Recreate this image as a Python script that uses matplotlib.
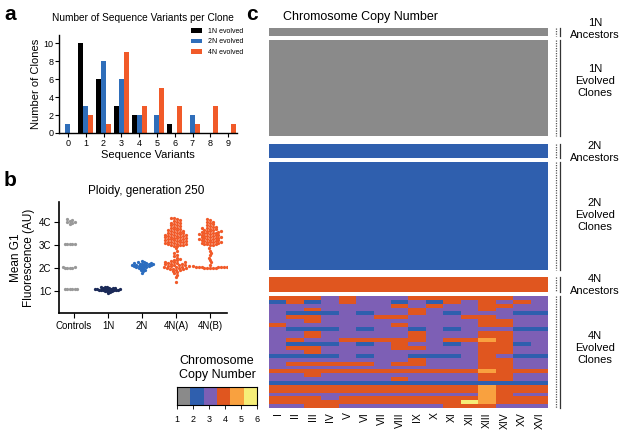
import numpy as np
import matplotlib.pyplot as plt
from matplotlib.colors import ListedColormap, BoundaryNorm

plt.rcParams['font.family'] = ['Liberation Sans', 'DejaVu Sans']

W, H = 624, 438

# ---- panel a: sequence variants per clone
variants = list(range(10))
clones_1n = [0, 10, 6, 3, 2, 0, 1, 0, 0, 0]
clones_2n = [1, 3, 8, 6, 2, 2, 0, 2, 0, 0]
clones_4n = [0, 2, 1, 9, 3, 5, 3, 1, 3, 1]
bar_labels = ['1N evolved', '2N evolved', '4N evolved']

# ---- panel b: ploidy at generation 250 (values in C units)
groups = ['Controls', '1N', '2N', '4N(A)', '4N(B)']
controls_vals = [3.92, 3.95, 3.98, 4.01, 4.04, 4.08, 4.12,
                 3.03, 3.03, 3.04, 3.04, 3.05,
                 2.0, 2.0, 2.01, 2.01, 2.02, 2.02,
                 1.07, 1.07, 1.08, 1.08, 1.09, 1.09]
n1_vals = [0.9, 0.95, 0.98, 1.0, 1.01, 1.02, 1.03, 1.04, 1.04, 1.05, 1.06, 1.06,
           1.07, 1.08, 1.08, 1.09, 1.1, 1.1, 1.11, 1.12, 1.13, 1.14, 1.15, 1.17, 1.19]
n2_vals = [1.76, 1.85, 1.9, 1.93, 1.96, 1.98, 2.0, 2.02, 2.04, 2.05, 2.07, 2.08,
           2.09, 2.1, 2.11, 2.12, 2.13, 2.14, 2.15, 2.16, 2.17, 2.18, 2.19, 2.2,
           2.21, 2.22, 2.24, 2.26, 2.29]
n4a_vals = [1.38, 1.6, 1.7, 1.76, 1.82, 1.86,
            1.9, 1.92, 1.94, 1.95, 1.97, 1.98, 2.0, 2.01, 2.03, 2.04, 2.06, 2.07,
            2.09, 2.1, 2.12, 2.13, 2.15, 2.16, 2.18, 2.19, 2.21, 2.22, 2.24, 2.26,
            2.28, 2.3, 2.33, 2.36, 2.4, 2.44, 2.5,
            2.58, 2.66, 2.75, 2.85,
            2.95, 2.97, 2.99, 3.0, 3.02, 3.03, 3.05, 3.06, 3.08, 3.09, 3.11, 3.12,
            3.14, 3.15, 3.17, 3.18, 3.2, 3.21, 3.23, 3.24, 3.26, 3.27, 3.29, 3.3,
            3.32, 3.33, 3.35, 3.36, 3.38, 3.39, 3.41, 3.42, 3.44, 3.45, 3.47, 3.48,
            3.5, 3.52, 3.54, 3.56, 3.58, 3.6, 3.62, 3.64, 3.66, 3.68, 3.7,
            3.73, 3.76, 3.79, 3.82, 3.85, 3.88, 3.91, 3.94, 3.97, 4.0, 4.04, 4.08,
            4.12, 4.16, 4.18]
n4b_vals = [1.99, 2.0, 2.0, 2.01, 2.01, 2.02, 2.02, 2.03, 2.03, 2.04, 2.05, 2.06, 2.07,
            2.15, 2.25, 2.35, 2.45, 2.55, 2.65, 2.75, 2.85,
            3.0, 3.02, 3.03, 3.05, 3.06, 3.08, 3.09, 3.11, 3.12, 3.14, 3.15, 3.17,
            3.18, 3.2, 3.21, 3.23, 3.24, 3.26, 3.27, 3.29, 3.3, 3.32, 3.33, 3.35,
            3.36, 3.38, 3.39, 3.41, 3.42, 3.44, 3.45, 3.47, 3.48, 3.5, 3.51, 3.53,
            3.54, 3.56, 3.57, 3.59, 3.6, 3.62, 3.64, 3.66, 3.68, 3.7, 3.72, 3.74,
            3.77, 3.8, 3.83, 3.86, 3.9, 3.94, 3.98, 4.02, 4.07, 4.12]
group_vals = [controls_vals, n1_vals, n2_vals, n4a_vals, n4b_vals]
group_pos = [-0.12, 1, 2, 3, 4]
group_colors = ['#999999', '#1b2a58', '#2c6dbf', '#f15a29', '#f15a29']
# dot spacing in pixels (horizontal, vertical)
group_gap_px = [(2.4, 2.4), (2.0, 2.0), (2.2, 2.2), (3.0, 2.5), (2.8, 2.5)]

# ---- panel c: chromosome copy number
chromosomes = ['I', 'II', 'III', 'IV', 'V', 'VI', 'VII', 'VIII', 'IX', 'X',
               'XI', 'XII', 'XIII', 'XIV', 'XV', 'XVI']
block_names = ['1N\nAncestors', '1N\nEvolved\nClones', '2N\nAncestors',
               '2N\nEvolved\nClones', '4N\nAncestors', '4N\nEvolved\nClones']
block_rows = [2, 22, 4, 24, 4, 29]
block_ploidy = [1, 1, 2, 2, 4, 4]
evolved_4n = [
    '4443433344444433',
    '2423433232434343',
    '3333333434334433',
    '3343333343334333',
    '3222323343233322',
    '3443334433344333',
    '3343333333334433',
    '4333333433334433',
    '3222323323233322',
    '3343333343334433',
    '3343333343334433',
    '3433444443445433',
    '3222323433234423',
    '3443333443334433',
    '3343333333334433',
    '2222323322234322',
    '3333333343334433',
    '3444443443334433',
    '3333333333334433',
    '4444444444445444',
    '3343333333334433',
    '3333333433334433',
    '2222222222222222',
    '4444444444445444',
    '4444444444445444',
    '3333333333335433',
    '4443444444445444',
    '4444444444465444',
    '3344333333444333',
]
copy_colors = ['#8a8a8a', '#2f5fae', '#7d5fb5', '#e0561f', '#f9a13f', '#f6ee78']
cmap = ListedColormap(copy_colors)
norm = BoundaryNorm(np.arange(0.5, 7.5), cmap.N)


def px_axes(fig, x0, y0, x1, y1):
    return fig.add_axes([x0 / W, 1 - y1 / H, (x1 - x0) / W, (y1 - y0) / H])


def swarm_offsets(vals, dx, dy):
    vals = np.asarray(vals, float)
    xs = np.zeros(len(vals))
    placed = []
    flip = 1
    for i in np.argsort(vals, kind='stable'):
        found = None
        for k in range(0, 200):
            for sgn in ([1] if k == 0 else [flip, -flip]):
                x = sgn * k * 0.5 * dx
                if all(((x - qx) / dx) ** 2 + ((vals[i] - qy) / dy) ** 2 >= 1.0
                       for qx, qy in placed):
                    found = x
                    break
            if found is not None:
                break
        if found != 0:
            flip = -flip
        xs[i] = found
        placed.append((found, vals[i]))
    return xs


fig = plt.figure(figsize=(W / 100, H / 100), dpi=100)

# ---------------- panel a
ax = px_axes(fig, 59, 35, 237, 133)
w = 0.28
ax.bar(np.array(variants) - w, clones_1n, w, color='black', label=bar_labels[0])
ax.bar(variants, clones_2n, w, color='#2f6eba', label=bar_labels[1])
ax.bar(np.array(variants) + w, clones_4n, w, color='#f15a29', label=bar_labels[2])
ax.set_xlim(-0.5, 9.5)
ax.set_ylim(0, 10.9)
ax.set_xticks(variants)
ax.set_yticks(range(0, 11, 2))
ax.tick_params(labelsize=6.5, length=3, width=0.8, pad=1.5)
ax.tick_params(axis='y', pad=0.8)
for s in ['top', 'right']:
    ax.spines[s].set_visible(False)
for s in ['left', 'bottom']:
    ax.spines[s].set_linewidth(1)
ax.set_xlabel('Sequence Variants', fontsize=8, labelpad=1)
ax.set_ylabel('Number of Clones', fontsize=8)
ax.yaxis.set_label_coords(-0.1, 0.5)
ax.set_title('Number of Sequence Variants per Clone', fontsize=7.3, pad=10, x=0.47)
ax.legend(fontsize=5, frameon=False, loc='upper right', bbox_to_anchor=(1.05, 1.1),
          handlelength=1.6, handleheight=0.7, labelspacing=0.5, borderaxespad=0)

# ---------------- panel b
ax = px_axes(fig, 59, 202, 227, 313)
for gi, vals in enumerate(group_vals):
    gx, gy = group_gap_px[gi]
    offs = swarm_offsets(vals, gx / 34, gy / 23)
    ax.scatter(group_pos[gi] + offs, vals, s=5.5, color=group_colors[gi],
               linewidths=0, zorder=3)
ax.set_xlim(-0.44, 4.5)
ax.set_ylim(0.04, 4.87)
ax.set_xticks(range(len(groups)))
ax.set_xticklabels(groups)
ax.set_yticks([1, 2, 3, 4])
ax.set_yticklabels(['1C', '2C', '3C', '4C'])
ax.tick_params(labelsize=7, length=3.5, width=0.8, pad=2)
for s in ['top', 'right']:
    ax.spines[s].set_visible(False)
for s in ['left', 'bottom']:
    ax.spines[s].set_linewidth(1.2)
ax.set_ylabel('Mean G1\nFluorescence (AU)', fontsize=8.5, linespacing=1.2)
ax.yaxis.set_label_coords(-0.14, 0.5)
ax.set_title('Ploidy, generation 250', fontsize=8.5, pad=6, x=0.52)

# ---------------- panel c heatmap blocks
block_tops = [28, 40, 144, 162, 277, 296]
block_bottoms = [36, 136, 158, 270, 292, 408]
x_left, x_right = 269, 548
for bi in range(len(block_rows)):
    bax = px_axes(fig, x_left, block_tops[bi], x_right, block_bottoms[bi])
    if bi == len(block_rows) - 1:
        data = np.array([[int(ch) for ch in row] for row in evolved_4n])
    else:
        data = np.full((block_rows[bi], len(chromosomes)), block_ploidy[bi])
    bax.imshow(data, cmap=cmap, norm=norm, aspect='auto', interpolation='nearest')
    bax.set_yticks([])
    for s in bax.spines.values():
        s.set_visible(False)
    if bi == len(block_rows) - 1:
        bax.set_xticks(range(len(chromosomes)))
        bax.set_xticklabels(chromosomes, rotation=90, fontsize=7.5)
        bax.tick_params(axis='x', length=0, pad=3)
    else:
        bax.set_xticks([])

# ---------------- colour key
cax = px_axes(fig, 177, 387, 257, 405)
cax.imshow([np.arange(1, 7)], cmap=cmap, norm=norm, aspect='auto',
           extent=(0, 6, 0, 1), interpolation='nearest')
cax.set_xticks(np.linspace(0, 6, 6))
cax.set_xticklabels([str(i) for i in range(1, 7)])
cax.set_yticks([])
cax.tick_params(labelsize=6.5, length=3, width=0.6, pad=4)
for s in cax.spines.values():
    s.set_linewidth(0.8)

# ---------------- overlay in pixel coordinates
ov = fig.add_axes([0, 0, 1, 1])
ov.set_xlim(0, W)
ov.set_ylim(H, 0)
ov.axis('off')
for lab, (x, y) in zip('abc', [(4, 14), (4, 180), (246, 14)]):
    ov.text(x, y, lab, fontsize=15, fontweight='bold', va='center', ha='left')
ov.text(283, 17, 'Chromosome Copy Number', fontsize=9, ha='left', va='center')
ov.text(217, 368, 'Chromosome\nCopy Number', fontsize=9, ha='center', va='center',
        linespacing=1.15)
label_y = [28.5, 81, 152, 215, 285, 348]
for bi in range(len(block_rows)):
    y0, y1 = block_tops[bi], block_bottoms[bi]
    ov.plot([556, 556], [y0, y1], color='#555555', lw=0.9, ls=(0, (1, 1)))
    ov.plot([560, 560], [y0, y1], color='#333333', lw=0.9)
    ov.text(595, label_y[bi], block_names[bi], fontsize=8, ha='center', va='center',
            linespacing=1.25)

fig.savefig('out.png', dpi=100)
